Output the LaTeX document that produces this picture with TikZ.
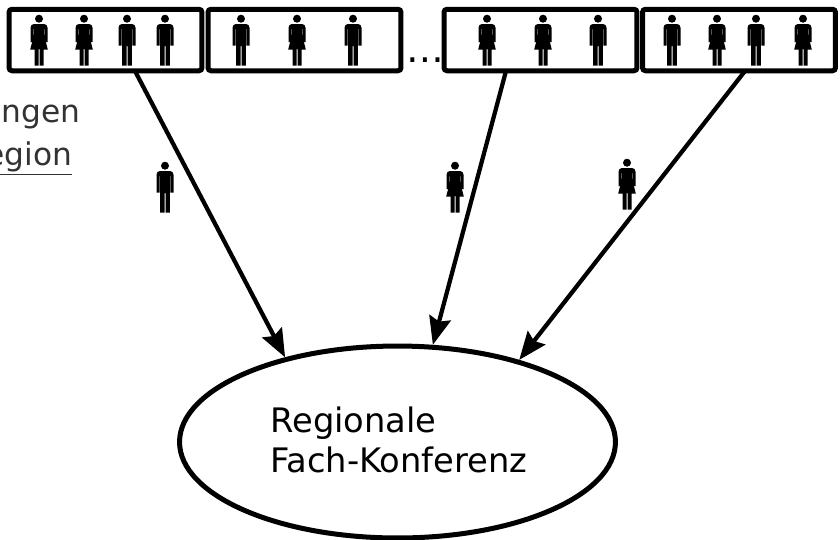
\documentclass[tikz,border=0pt]{standalone}
\usepackage{fontspec}
\setmainfont{DejaVu Sans}
\usetikzlibrary{shapes.geometric}
\usetikzlibrary{arrows.meta}
\colorlet{labelgray}{black!80}
\tikzset{
  gruppe/.style={draw, line width=0.1cm, rounded corners=0.06cm, minimum width=3.86cm, minimum height=1.23cm, inner sep=0pt},
  pfeil/.style={line width=0.085cm, -{Stealth[length=0.56cm, width=0.44cm, inset=0.08cm]}},
  man/.pic={
    \fill (0,-0.3) circle (4);
    \fill (-8.5,26.5) [rounded corners=2] -- (-8.5,5) -- (8.5,5) [sharp corners] -- (8.5,26.5) -- (5.3,26.5) -- (5.3,10) -- (4.8,10) -- (4.8,46.5) -- (0.5,46.5) -- (0.5,27) -- (-0.5,27) -- (-0.5,46.5) -- (-4.8,46.5) -- (-4.8,10) -- (-5.3,10) -- (-5.3,26.5) -- cycle;
  },
  woman/.pic={
    \fill (0,-0.3) circle (4);
    \fill (-8.5,23) [rounded corners=2] -- (-8.5,5) -- (8.5,5) [sharp corners] -- (8.5,23) -- (5.3,23) -- (5.3,10) -- (4.8,10) -- (4.8,15) -- (8.8,30.5) -- (4.5,30.5) -- (4.5,46.5) -- (0.5,46.5) -- (0.5,30) -- (-0.5,30) -- (-0.5,46.5) -- (-4.5,46.5) -- (-4.5,30.5) -- (-8.8,30.5) -- (-4.8,15) -- (-4.8,10) -- (-5.3,10) -- (-5.3,23) -- cycle;
  }
}
\begin{document}
\begin{tikzpicture}[x=0.02cm, y=-0.02cm]
\useasboundingbox (0,0) rectangle (840,539);

\node[gruppe] (g1) at (105.5,40) {};
\node[gruppe] (g2) at (304.5,40) {};
\node[gruppe] (g3) at (540.5,40) {};
\node[gruppe] (g4) at (739,40) {};
\node[anchor=base, inner sep=0pt, font=\fontsize{21.5}{24}\selectfont] (dots) at (425.5,62) {…};

\node[draw, ellipse, line width=0.1cm, minimum width=8.72cm, minimum height=3.84cm, inner sep=0pt] (konf) at (397.5,442) {};
\node[anchor=north west, inner sep=0pt, align=left, font=\fontsize{19.2}{22.6}\selectfont] (konftext) at (270,406.5) {Regionale\\Fach-Konferenz};

\node[anchor=base east, inner sep=0pt, text=labelgray, font=\fontsize{17.8}{20}\selectfont] (t1) at (80.5,122.5) {ngen};
\node[anchor=base east, inner sep=0pt, text=labelgray, font=\fontsize{17.8}{20}\selectfont] (t2) at (72.5,165.5) {\underline{egion}};

\coordinate (s1) at (135,71);
\coordinate (s2) at (506,71);
\coordinate (s3) at (745,71);

\draw[pfeil] (s1) -- (konf.143.4);
\draw[pfeil] (s2) -- (konf.70);
\draw[pfeil] (s3) -- (konf.34);

% Gruppen
\foreach \x in {39,84,487,543,717,803} \pic at (\x,19) {woman};
\foreach \x in {127,165,241,353,598,672,756} \pic at (\x,19) {man};
\pic at (297,19) {woman};

% einzelne Delegierte
\pic at (165,166) {man};
\pic at (455,166) {woman};
\pic at (627,163) {woman};
\end{tikzpicture}
\end{document}
